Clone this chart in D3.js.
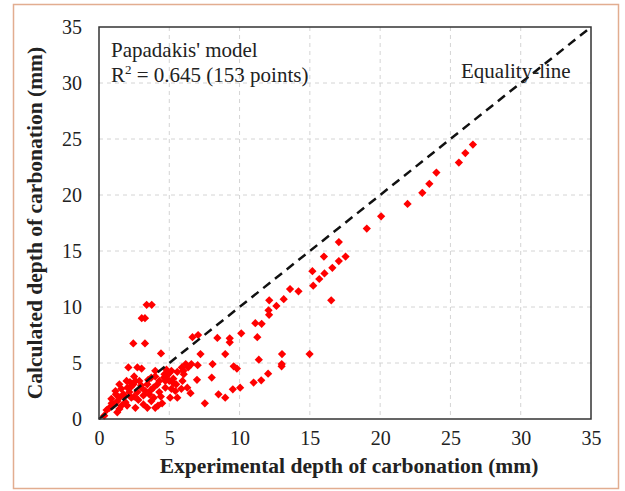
<!DOCTYPE html>
<html><head><meta charset="utf-8">
<script src="https://cdn.jsdelivr.net/npm/d3@7"></script>
<style>
html,body{margin:0;padding:0;background:#fff;}
svg{display:block;}
</style></head>
<body>
<svg id="chart" width="625" height="491"></svg>
<script>
// ---- data (experimental, calculated) in mm ----
const expX = [
 26.6,26.06,25.6,24.0,23.5,23.0,21.95,20.07,19.05,17.06,17.54,17.06,16.6,16.0,16.04,15.67,15.18,15.24,16.52,14.19,
 13.59,13.14,12.62,12.11,12.06,12.1,11.57,11.12,11.26,10.12,9.3,9.3,8.42,7.05,6.65,7.22,8.98,13.02,12.99,13.0,
 14.98,11.37,9.58,9.81,8.08,8.02,7.02,6.97,6.51,7.53,8.5,8.98,9.52,10.04,11.0,11.54,12.03,
 3.39,3.75,3.04,3.27,2.44,3.27,4.41,2.09,3.03,2.5,6.17,5.89,6.03,5.57,5.15,5.0,4.63,4.29,4.72,5.15,
 5.06,5.57,5.94,5.49,4.49,4.0,3.44,2.59,3.16,3.72,4.29,3.87,3.44,3.01,2.73,2.3,1.88,1.45,1.17,1.59,
 2.02,2.45,2.87,1.96,1.45,0.88,1.02,0.54,0.37,0.74,1.45,3.72,4.15,3.58,3.16,2.59,1.73,1.31,2.16,4.72,
 4.86,5.29,5.43,5.86,6.28,4.0,4.66,6.34,6.57,2.73,
 1.2,1.6,2.0,2.3,2.8,3.3,3.9,4.2,1.8,2.5,3.0,3.5,4.4,0.9,1.3,2.2,4.0,5.3,4.8,3.7,5.0,6.0
];
const calcY = [
 24.5,23.74,22.9,22.0,21.0,20.2,19.2,18.1,17.0,15.8,14.5,14.1,13.5,14.5,13.0,12.5,13.2,11.9,10.6,11.4,
 11.6,10.7,10.1,10.6,9.7,9.3,8.5,8.55,7.3,7.65,7.2,6.85,7.24,7.5,7.3,5.8,5.8,5.8,4.7,4.9,
 5.8,5.3,4.7,4.5,4.9,3.7,4.8,3.5,2.3,1.4,2.2,1.9,2.65,2.8,3.25,3.45,4.05,
 10.2,10.2,9.0,9.0,6.75,6.75,5.85,4.6,4.5,3.8,4.9,4.6,4.0,4.2,4.3,4.1,3.7,3.4,2.8,2.7,
 1.9,1.9,3.4,3.1,1.4,1.0,1.0,1.0,1.3,1.6,2.4,2.8,3.1,2.8,2.4,1.9,1.5,1.9,2.5,2.7,
 2.8,3.1,3.4,3.4,3.1,1.8,1.3,0.8,0.3,1.0,0.9,3.7,3.1,2.2,2.1,3.4,2.2,1.6,2.4,3.4,
 3.9,3.6,2.5,2.7,2.8,4.3,4.0,4.6,4.9,4.6,
 2.2,1.2,1.2,2.9,1.7,2.5,1.9,1.2,2.1,2.0,3.0,3.5,2.0,1.4,0.6,3.3,3.8,3.2,4.4,2.6,3.4,4.3
];
const xTicks = [0,5,10,15,20,25,30,35];
const yTicks = [0,5,10,15,20,25,30,35];
const equality = [0,35];
const xTitle = "Experimental depth of carbonation (mm)";
const yTitle = "Calculated depth of carbonation (mm)";
const note1 = "Papadakis' model";
const noteR2 = "0.645 (153 points)";
const lineLabel = "Equality-line";

const FONT = "'Liberation Serif','Times New Roman',Times,serif";
const svg = d3.select("#chart");
const m = {left:99, right:591, top:27, bottom:419};
const x = d3.scaleLinear().domain([0,35]).range([m.left, m.right]);
const y = d3.scaleLinear().domain([0,35]).range([m.bottom, m.top]);

// outer frame
svg.append("rect").attr("x",13.5).attr("y",4.5).attr("width",605).attr("height",484)
  .attr("fill","#fff").attr("stroke","#e2ad90").attr("stroke-width",1.5);

// grid
const g = svg.append("g");
g.selectAll(".vg").data(xTicks.slice(1,-1)).enter().append("line")
  .attr("x1",d=>x(d)).attr("x2",d=>x(d)).attr("y1",m.top).attr("y2",m.bottom)
  .attr("stroke","#d4d4d4").attr("stroke-width",1).attr("stroke-dasharray","4,4");
g.selectAll(".hg").data(yTicks.slice(1,-1)).enter().append("line")
  .attr("y1",d=>y(d)).attr("y2",d=>y(d)).attr("x1",m.left).attr("x2",m.right)
  .attr("stroke","#d4d4d4").attr("stroke-width",1).attr("stroke-dasharray","4,4");

// axes (labels only, via d3 axis)
const xa = svg.append("g").attr("transform",`translate(0,${m.bottom})`)
  .call(d3.axisBottom(x).tickValues(xTicks).tickSize(0).tickPadding(12).tickFormat(d3.format("d")));
const ya = svg.append("g").attr("transform",`translate(${m.left},0)`)
  .call(d3.axisLeft(y).tickValues(yTicks).tickSize(0).tickPadding(17).tickFormat(d3.format("d")));
[xa,ya].forEach(a=>{
  a.attr("font-family",null).attr("font-size",null);
  a.select(".domain").remove();
  a.selectAll("text").style("font-family",FONT).style("font-size","20px").attr("fill","#222");
});

// points
const pts = expX.map((v,i)=>({x:v,y:calcY[i]}));
const sym = d3.symbol().type(d3.symbolSquare).size(34);
svg.append("g").selectAll("path").data(pts).enter().append("path")
  .attr("d",sym)
  .attr("transform",d=>`translate(${x(d.x)},${y(d.y)}) rotate(45)`)
  .attr("fill","#ff0000");

// equality line
svg.append("line")
  .attr("x1",x(equality[0])).attr("y1",y(equality[0]))
  .attr("x2",x(equality[1])).attr("y2",y(equality[1]))
  .attr("stroke","#111").attr("stroke-width",2.5).attr("stroke-dasharray","9,6");

// plot border
svg.append("rect").attr("x",m.left).attr("y",m.top)
  .attr("width",m.right-m.left).attr("height",m.bottom-m.top)
  .attr("fill","none").attr("stroke","#333").attr("stroke-width",1.5);

// annotations
function txt(sel){ return sel.style("font-family",FONT).attr("fill","#222"); }
txt(svg.append("text")).attr("x",111).attr("y",57).style("font-size","21px").text(note1);
const t2 = txt(svg.append("text")).attr("x",111).attr("y",82).style("font-size","21px");
t2.append("tspan").text("R");
t2.append("tspan").attr("dy",-8).style("font-size","13px").text("2");
t2.append("tspan").attr("dy",8).text(" = " + noteR2);
txt(svg.append("text")).attr("x",461).attr("y",78).style("font-size","21px").text(lineLabel);

// axis titles
txt(svg.append("text")).attr("x",(m.left+m.right)/2+4).attr("y",473).attr("text-anchor","middle")
  .style("font-size","21.5px").style("font-weight","bold").text(xTitle);
txt(svg.append("text")).attr("transform",`translate(42,${(m.top+m.bottom)/2}) rotate(-90)`)
  .attr("text-anchor","middle").style("font-size","21.5px").style("font-weight","bold").text(yTitle);
</script>
</body></html>
